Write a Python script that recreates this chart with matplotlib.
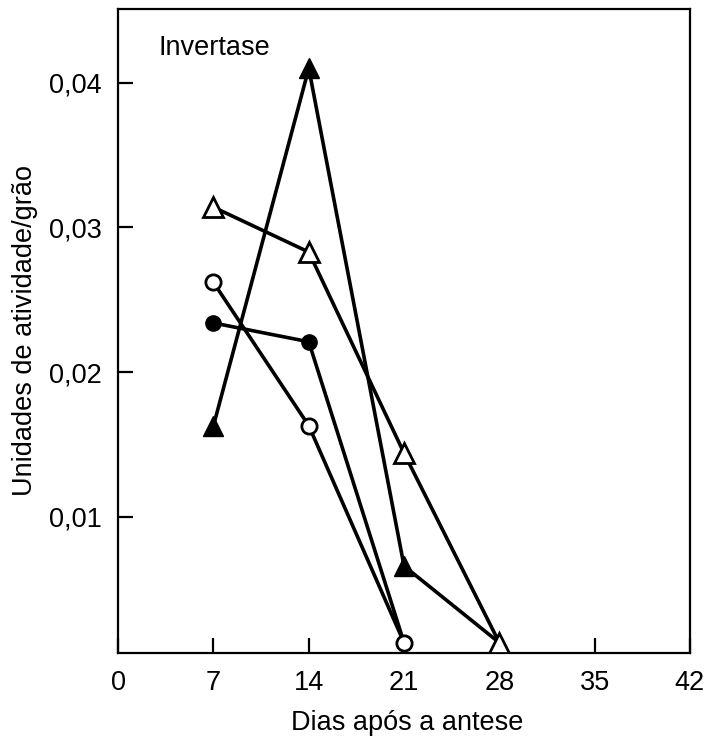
import matplotlib
matplotlib.use("Agg")
import matplotlib.pyplot as plt
from matplotlib.ticker import FuncFormatter

plt.rcParams.update({
    "font.family": ["Liberation Sans", "DejaVu Sans"],
    "font.size": 19.5,
})

# days after anthesis and invertase activity per grain
dias_tri_cheio = [7, 14, 21, 28]
ativ_tri_cheio = [0.0163, 0.0410, 0.0066, 0.0013]
dias_tri_vazio = [7, 14, 21, 28]
ativ_tri_vazio = [0.0314, 0.0283, 0.0144, 0.0013]
dias_circ_vazio = [7, 14, 21]
ativ_circ_vazio = [0.0262, 0.0163, 0.0013]
dias_circ_cheio = [7, 14, 21]
ativ_circ_cheio = [0.0234, 0.0221, 0.0013]

xticks = [0, 7, 14, 21, 28, 35, 42]
yticks = [0.01, 0.02, 0.03, 0.04]

fig = plt.figure(figsize=(7.12, 7.47), dpi=100)
ax = fig.add_axes([0.166, 0.126, 0.803, 0.862])

lw = 2.6
ax.plot(dias_tri_cheio, ativ_tri_cheio, "-^", color="black", lw=lw,
        ms=14, mfc="black", mec="black", zorder=3)
ax.plot(dias_tri_vazio, ativ_tri_vazio, "-^", color="black", lw=lw,
        ms=14, mfc="white", mec="black", mew=2.0, zorder=4)
ax.plot(dias_circ_vazio, ativ_circ_vazio, "-o", color="black", lw=lw,
        ms=11, mfc="white", mec="black", mew=2.0, zorder=4)
ax.plot(dias_circ_cheio, ativ_circ_cheio, "-o", color="black", lw=lw,
        ms=11, mfc="black", mec="black", zorder=3)

ax.set_xlim(0, 42)
ax.set_ylim(0.0006, 0.0451)
ax.set_xticks(xticks)
ax.set_yticks(yticks)
ax.yaxis.set_major_formatter(FuncFormatter(lambda v, p: f"{v:.2f}".replace(".", ",")))
ax.tick_params(direction="in", length=11, width=1.6, pad=12)
for s in ax.spines.values():
    s.set_linewidth(1.6)

ax.text(0.07, 0.96, "Invertase", transform=ax.transAxes, ha="left", va="top")
ax.set_xlabel("Dias após a antese")
ax.xaxis.set_label_coords(0.505, -0.088)
ax.set_ylabel("Unidades de atividade/grão", labelpad=8)

fig.savefig("out.png", dpi=100)
